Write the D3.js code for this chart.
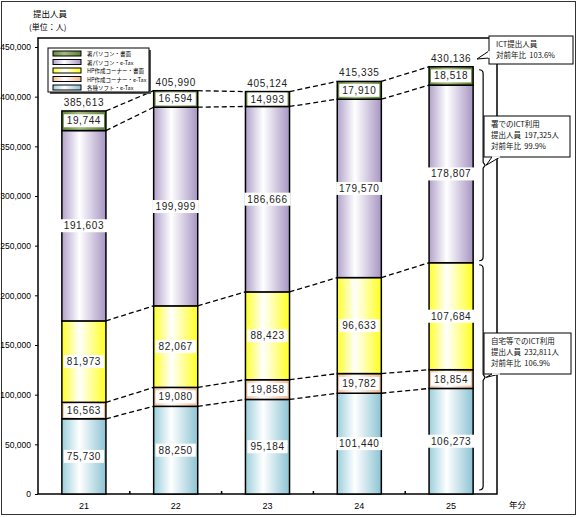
<!DOCTYPE html>
<html><head><meta charset="utf-8">
<script src="https://cdn.jsdelivr.net/npm/d3@7"></script>
<style>
body{margin:0;background:#fff;}
svg{display:block;}
.num{font-family:"Liberation Sans",Arial,sans-serif;}
.jp{font-family:"Noto Sans CJK JP",sans-serif;}
</style></head>
<body>
<svg id="c" width="580" height="517"></svg>
<script>
// ---- data ----
const years = ["21", "22", "23", "24", "25"];
const seriesKeys = ["soft", "hpEtax", "hpPaper", "pcEtax", "pcPaper"];
const seriesNames = ["各種ソフト・e-Tax", "HP作成コーナー・e-Tax", "HP作成コーナー・書面", "署パソコン・e-Tax", "署パソコン・書面"];
const soft    = [75730, 88250, 95184, 101440, 106273];
const hpEtax  = [16563, 19080, 19858, 19782, 18854];
const hpPaper = [81973, 82067, 88423, 96633, 107684];
const pcEtax  = [191603, 199999, 186666, 179570, 178807];
const pcPaper = [19744, 16594, 14993, 17910, 18518];
const yTicks = [0, 50000, 100000, 150000, 200000, 250000, 300000, 350000, 400000, 450000];
const callout1 = ["ICT提出人員", "対前年比  103.6%"];
const callout2 = ["署でのICT利用", "提出人員  197,325人", "対前年比  99.9%"];
const callout3 = ["自宅等でのICT利用", "提出人員  232,811人", "対前年比  106.9%"];
const titleLines = ["提出人員", "(単位：人)"];
const xUnit = "年分";

const colors = {
  soft:    ["#9ccfdc", "#ffffff", "#8cc3d3"],
  hpEtax:  ["#f6bf98", "#ffffff", "#f3b78c"],
  hpPaper: ["#ffff2a", "#ffffff", "#ffff20"],
  pcEtax:  ["#b2a2cb", "#ffffff", "#a795c2"],
  pcPaper: ["#66883a", "#a3ba80", "#5d7f32"]
};

const svg = d3.select("#c");
const defs = svg.append("defs");
seriesKeys.forEach(k => {
  const g = defs.append("linearGradient").attr("id", "g_" + k)
    .attr("x1", "0").attr("x2", "1").attr("y1", "0").attr("y2", "0");
  g.append("stop").attr("offset", "0").attr("stop-color", colors[k][0]);
  g.append("stop").attr("offset", "0.4").attr("stop-color", colors[k][1]);
  g.append("stop").attr("offset", "1").attr("stop-color", colors[k][2]);
});

// outer frame
svg.append("rect").attr("x", 1.5).attr("y", 1.5).attr("width", 574).attr("height", 513)
  .attr("fill", "none").attr("stroke", "#333").attr("stroke-width", 1);

const L = 38, R = 497, T = 38, B = 494;
const x = d3.scaleBand().domain(years).range([L, R]).paddingInner(0.52).paddingOuter(0.26);
const y = d3.scaleLinear().domain([0, 450000]).range([B, 47]);

// plot frame
svg.append("rect").attr("x", L).attr("y", T).attr("width", R - L).attr("height", B - T)
  .attr("fill", "none").attr("stroke", "#000").attr("stroke-width", 1.5);

// title
svg.append("text").attr("class", "jp").attr("x", 33).attr("y", 17).attr("font-size", 8.5).text(titleLines[0]);
svg.append("text").attr("class", "jp").attr("x", 29).attr("y", 30).attr("font-size", 8).text(titleLines[1]);

// y axis
const yAxis = svg.append("g").attr("transform", `translate(${L},0)`)
  .call(d3.axisLeft(y).tickValues(yTicks).tickSize(3).tickPadding(4).tickFormat(d3.format(",")));
yAxis.select(".domain").remove();
yAxis.selectAll("text").attr("class", "num").attr("font-size", 8.5).attr("fill", "#000");
yAxis.selectAll("line").attr("stroke", "#000");

// x axis labels
const xAxis = svg.append("g").attr("transform", `translate(0,${B})`)
  .call(d3.axisBottom(x).tickSize(0).tickPadding(9));
xAxis.select(".domain").remove();
xAxis.selectAll("text").attr("class", "num").attr("font-size", 9).attr("fill", "#000");
// small ticks between categories
for (let i = 0; i < years.length - 1; i++) {
  const xm = (x(years[i]) + x.bandwidth() + x(years[i + 1])) / 2;
  svg.append("line").attr("x1", xm).attr("x2", xm).attr("y1", B).attr("y2", B - 3)
    .attr("stroke", "#000").attr("stroke-width", 1.5);
}
svg.append("text").attr("class", "jp").attr("x", 509).attr("y", 508).attr("font-size", 8.5).text(xUnit);

// stack
const rows = years.map((yr, i) => ({ year: yr, soft: soft[i], hpEtax: hpEtax[i], hpPaper: hpPaper[i], pcEtax: pcEtax[i], pcPaper: pcPaper[i] }));
const stacked = d3.stack().keys(seriesKeys)(rows);
const totals = rows.map(r => d3.sum(seriesKeys, k => r[k]));

// dashed connectors
const bounds = stacked.map(s => s.map(d => d[1]));
bounds.forEach(b => {
  for (let i = 0; i < years.length - 1; i++) {
    svg.append("line")
      .attr("x1", x(years[i]) + x.bandwidth()).attr("y1", y(b[i]))
      .attr("x2", x(years[i + 1])).attr("y2", y(b[i + 1]))
      .attr("stroke", "#000").attr("stroke-width", 1.3).attr("stroke-dasharray", "5,3");
  }
});

// bars
stacked.forEach(s => {
  svg.append("g").selectAll("rect").data(s).join("rect")
    .attr("x", d => x(d.data.year)).attr("width", x.bandwidth())
    .attr("y", d => y(d[1])).attr("height", d => y(d[0]) - y(d[1]))
    .attr("fill", `url(#g_${s.key})`).attr("stroke", "#000").attr("stroke-width", 1.5);
});

// value labels
const fmt = d3.format(",");
stacked.forEach(s => {
  s.forEach(d => {
    const cx = x(d.data.year) + x.bandwidth() / 2;
    const cy = (y(d[0]) + y(d[1])) / 2;
    const g = svg.append("g");
    const t = g.append("text").attr("class", "num").attr("x", cx).attr("y", cy + 3.5)
      .attr("text-anchor", "middle").attr("font-size", 10).attr("letter-spacing", 0.6)
      .attr("fill", "#222").text(fmt(d[1] - d[0]));
    const w = t.node().getComputedTextLength() + 6;
    g.insert("rect", "text").attr("x", cx - w / 2).attr("y", cy - 6.5).attr("width", w).attr("height", 13)
      .attr("fill", "#fff");
  });
});

// totals
years.forEach((yr, i) => {
  svg.append("text").attr("class", "num").attr("x", x(yr) + x.bandwidth() / 2).attr("y", y(totals[i]) - 5)
    .attr("text-anchor", "middle").attr("font-size", 10).attr("letter-spacing", 0.6).attr("fill", "#222")
    .text(fmt(totals[i]));
});

// legend
const lg = svg.append("g");
lg.append("rect").attr("x", 50).attr("y", 50).attr("width", 101).attr("height", 44).attr("fill", "#555");
lg.append("rect").attr("x", 48).attr("y", 48).attr("width", 101).attr("height", 44).attr("fill", "#fff")
  .attr("stroke", "#000").attr("stroke-width", 1);
const legendOrder = seriesKeys.slice().reverse();
const legendNames = seriesNames.slice().reverse();
legendOrder.forEach((k, i) => {
  const yy = 51 + i * 8.5;
  lg.append("rect").attr("x", 53).attr("y", yy).attr("width", 28).attr("height", 5)
    .attr("fill", `url(#g_${k})`).attr("stroke", "#000").attr("stroke-width", 1);
  lg.append("text").attr("class", "jp").attr("x", 87).attr("y", yy + 5).attr("font-size", 5.5)
    .text(legendNames[i]);
});

// braces for last bar
const lastIdx = years.length - 1;
const bx = x(years[lastIdx]) + x.bandwidth() + 6;
function brace(y1, y2) {
  const ym = (y1 + y2) / 2;
  return `M${bx},${y1} Q${bx + 4},${y1} ${bx + 4},${y1 + 4} L${bx + 4},${ym - 3} L${bx + 6},${ym} L${bx + 4},${ym + 3} L${bx + 4},${y2 - 4} Q${bx + 4},${y2} ${bx},${y2}`;
}
const topOffice = y(totals[lastIdx]) + 3;
const midBound = y(bounds[2][lastIdx]);
svg.append("path").attr("d", brace(topOffice, midBound - 2)).attr("fill", "none").attr("stroke", "#000").attr("stroke-width", 1.2);
svg.append("path").attr("d", brace(midBound + 2, B - 4)).attr("fill", "none").attr("stroke", "#000").attr("stroke-width", 1.2);
const mid1 = (topOffice + midBound - 2) / 2, mid2 = (midBound + 2 + B - 4) / 2;

// callouts
function callout(x0, y0, w, h, pts, lines) {
  const g = svg.append("g");
  g.append("rect").attr("x", x0).attr("y", y0).attr("width", w).attr("height", h)
    .attr("fill", "#fff").attr("stroke", "#000").attr("stroke-width", 1);
  g.append("path").attr("d", `M${pts[0][0]},${pts[0][1]} L${pts[1][0]},${pts[1][1]} L${pts[2][0]},${pts[2][1]}`)
    .attr("fill", "#fff").attr("stroke", "#000").attr("stroke-width", 1);
  g.append("line").attr("x1", pts[0][0]).attr("y1", pts[0][1]).attr("x2", pts[2][0]).attr("y2", pts[2][1])
    .attr("stroke", "#fff").attr("stroke-width", 1.6);
  lines.forEach((t, i) => {
    g.append("text").attr("class", "jp").attr("x", x0 + 7).attr("y", y0 + 11 + i * 11)
      .attr("font-size", 7.5).attr("fill", "#111").attr("xml:space", "preserve").text(t);
  });
}
callout(489, 36, 84, 28, [[489, 51], [477, 59], [489, 58]], callout1);
callout(484, 116, 86, 41, [[492, 157], [bx + 7, mid1], [500, 157]], callout2);
callout(484, 333, 87, 41, [[492, 374], [bx + 7, mid2], [500, 374]], callout3);
</script>
</body></html>
